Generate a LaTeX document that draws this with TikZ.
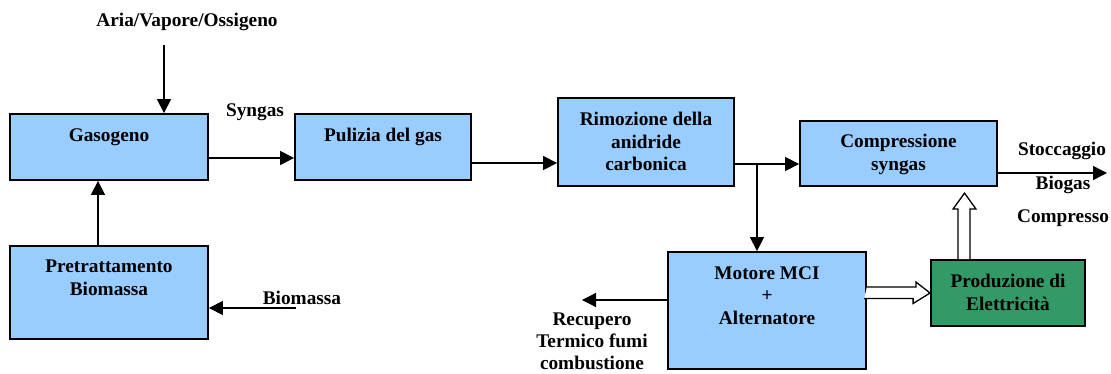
\documentclass[tikz,border=0pt]{standalone}
\usepackage{fontspec}
\setmainfont{Liberation Serif}
\usetikzlibrary{positioning, arrows.meta}
\definecolor{UnitBlue}{HTML}{99CCFF}
\definecolor{UnitGreen}{HTML}{339966}

\begin{document}
\begin{tikzpicture}[x=1pt, y=-1pt,
    unit/.style={draw=black, line width=1.8pt, fill=UnitBlue, inner sep=0pt},
    greenunit/.style={unit, fill=UnitGreen},
    unittext/.style={font=\fontsize{19.3}{22.5}\selectfont\bfseries, align=center, inner sep=0pt},
    flowlabel/.style={font=\fontsize{19.3}{22}\selectfont\bfseries, align=center, inner sep=0pt},
    flow/.style={line width=1.3pt, -{Triangle[length=14pt, width=14pt]}},
    hollow/.style={draw=black, line width=1.3pt, fill=white, line join=miter}]

    \useasboundingbox (0,0) rectangle (1111,374);

    % Process units
    \node[unit, minimum width=198pt, minimum height=66pt] (gas) at (109,147) {};
    \node[unit, minimum width=198pt, minimum height=93pt] (pre) at (109,292.5) {};
    \node[unit, minimum width=176pt, minimum height=66pt] (pul) at (383,147) {};
    \node[unit, minimum width=176pt, minimum height=88pt] (rim) at (646,142) {};
    \node[unit, minimum width=197pt, minimum height=65pt] (comp) at (898.5,153.5) {};
    \node[unit, minimum width=198pt, minimum height=117pt] (mot) at (767,310.5) {};
    \node[greenunit, minimum width=154pt, minimum height=66pt] (prod) at (1008,293) {};

    \node[unittext, below=15pt of gas.north] (gastext) {Gasogeno};
    \node[unittext, below=15pt of pre.north] (pretext) {Pretrattamento\\Biomassa};
    \node[unittext, below=15pt of pul.north] (pultext) {Pulizia del gas};
    \node[unittext, below=15pt of rim.north] (rimtext) {Rimozione della\\anidride\\carbonica};
    \node[unittext, below=14pt of comp.north] (comptext) {Compressione\\syngas};
    \node[unittext, below=15pt of mot.north] (mottext) {Motore MCI\\+\\Alternatore};
    \node[unittext, below=15pt of prod.north] (prodtext) {Produzione di\\Elettricit\`a};

    % Stream labels
    \node[flowlabel, anchor=base] (air) at (187,27) {Aria/Vapore/Ossigeno};
    \node[flowlabel, anchor=base] (syn) at (255,117) {Syngas};
    \node[flowlabel, anchor=base] (bio) at (302,304) {Biomassa};
    \node[flowlabel, anchor=north] (heat) at (592,313) {Recupero\\Termico fumi\\combustione};
    \node[flowlabel, anchor=base] (sto) at (1062,156) {Stoccaggio};
    \node[flowlabel, anchor=base] (stobio) at (1063,190) {Biogas};
    \node[flowlabel, anchor=base] (stocomp) at (1063,223) {Compresso};

    % Gas line
    \coordinate (airin) at (164,45);
    \draw[flow] (airin) -- (airin |- gas.north);
    \coordinate (bioin) at (296,308);
    \draw[flow] (bioin) -- (bioin -| pre.east);
    \draw[flow] ([xshift=-11pt]pre.north) -- ([xshift=-11pt]gas.south);
    \coordinate (gasout) at ([yshift=-11pt]gas.east);
    \draw[flow] (gasout) -- (gasout -| pul.west);
    \coordinate (pulout) at ([yshift=-16pt]pul.east);
    \draw[flow] (pulout) -- (pulout -| rim.west);
    \coordinate (split) at (757,164);
    \draw[line width=1.3pt] (rim.east |- split) -- (split);
    \draw[flow] (split) -- (split -| comp.west);
    \draw[flow] (split) -- (split |- mot.north);
    \coordinate (storeend) at (1107,173);
    \draw[flow] (comp.east |- storeend) -- (storeend);
    \coordinate (heatout) at (582,300);
    \draw[flow] (mot.west |- heatout) -- (heatout);

    % Electricity
    \draw[hollow] ([yshift=23.5pt]mot.east) -- ++(49,0) -- ++(0,-5) -- (prod.west)
        -- ++(-17,10.5) -- ++(0,-5) -- ++(-49,0);
    \draw[hollow] ([xshift=-50pt]prod.north) -- ++(0,-50) -- ++(-5,0) -- ++(11.5,-16)
        -- ++(11.5,16) -- ++(-6,0) -- ++(0,50);
\end{tikzpicture}
\end{document}
